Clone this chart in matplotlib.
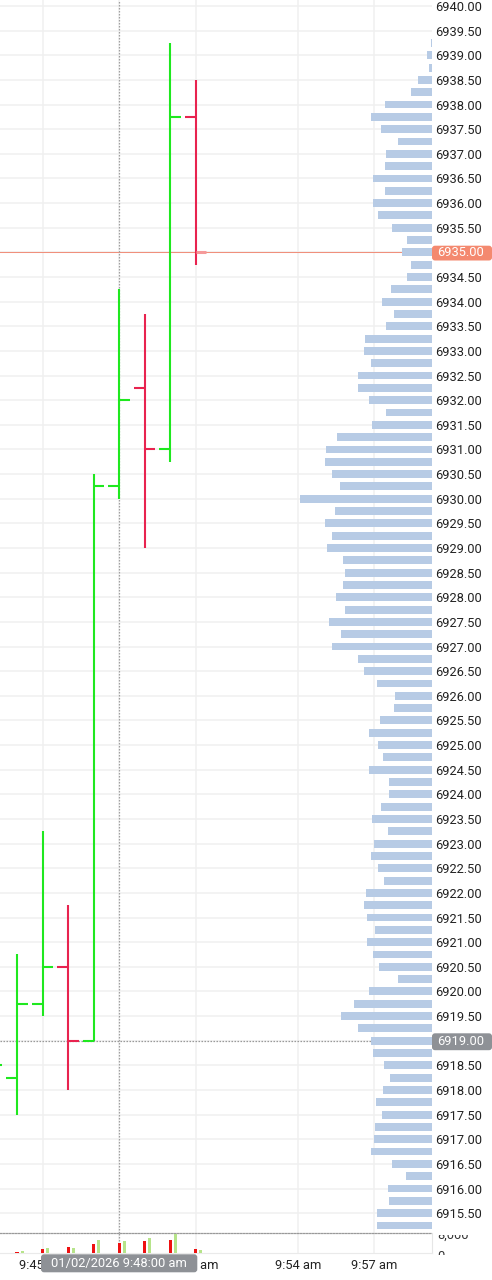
import numpy as np
import matplotlib
matplotlib.use('Agg')
import matplotlib.pyplot as plt
from matplotlib.patches import FancyBboxPatch
from matplotlib.transforms import IdentityTransform, Bbox

plt.rcParams['font.family'] = ['Roboto', 'DejaVu Sans']

# ---------------- data ----------------
bar_idx = [-1, 0, 1, 2, 3, 4, 5, 6, 7]
opens  = [6918.00, 6918.25, 6919.75, 6920.50, 6919.00, 6930.25, 6932.25, 6931.00, 6937.75]
highs  = [6919.00, 6920.75, 6923.25, 6921.75, 6930.50, 6934.25, 6933.75, 6939.25, 6938.50]
lows   = [6917.75, 6917.50, 6919.50, 6918.00, 6919.00, 6930.00, 6929.00, 6930.75, 6934.75]
closes = [6918.50, 6919.75, 6920.50, 6919.00, 6930.25, 6932.00, 6931.00, 6937.75, 6935.00]

sell_vol = [1200, 700, 1900, 2900, 4200, 4370, 5400, 5700, 1750]
buy_vol  = [1500, 1000, 2450, 2450, 5800, 5400, 6700, 8400, 1300]

time_tick_pos = [1, 4, 7, 11, 14]
time_tick_labels = ['9:45 am', '9:48 am', '9:51 am', '9:54 am', '9:57 am']

profile_prices = np.arange(6939.25, 6915.0, -0.25)
profile_vol = [
    10, 50, 30, 136, 210, 470, 606, 506,
    340, 456, 473, 590, 470, 590, 543, 403,
    250, 303, 206, 253, 413, 503, 383, 457,
    673, 677, 610, 743, 743, 630, 463, 597,
    953, 1060, 1070, 1000, 923, 1323,
    973, 1073, 1003, 1050, 893, 867, 887, 957,
    873, 1033, 913, 1003, 737, 680, 550, 373,
    377, 517, 633, 543, 487, 627, 433, 433,
    513, 600, 440, 583, 610, 537, 477, 663,
    683, 650, 567, 653, 590, 527, 343, 630,
    783, 913, 740, 610, 593, 483, 417, 493,
    560, 503, 573, 583, 607, 403, 260, 440,
    427, 550, 547,
]
assert len(profile_vol) == len(profile_prices)

last_price = 6935.00
cross_price = 6919.00
cross_idx = 4
cross_label = '01/02/2026 9:48:00 am'

# ---------------- layout ----------------
W, H = 492, 1280
fig = plt.figure(figsize=(W / 100, H / 100), dpi=100)


def rect(x0, y0, x1, y1):
    return [x0 / W, 1 - y1 / H, (x1 - x0) / W, (y1 - y0) / H]


ax = fig.add_axes(rect(0, 0, 432, 1233))
vax = fig.add_axes(rect(0, 1233, 432, 1253.3))

UP = '#1fe81f'
DOWN = '#e8234f'
GRID = '#f0f0f0'
XMIN, XMAX = -0.666, 16.256

# ---------------- price pane ----------------
ax.set_xlim(XMIN, XMAX)
ax.set_ylim(6915.097, 6940.122)
ax.set_facecolor('white')
for s in ax.spines.values():
    s.set_visible(False)

ax.set_yticks(np.arange(6915.5, 6940.01, 0.5))
ax.set_yticklabels([f'{v:.2f}' for v in np.arange(6915.5, 6940.01, 0.5)])
ax.yaxis.tick_right()
ax.tick_params(axis='y', length=0, pad=2.2, labelsize=9.3, labelcolor='#222222')
ax.set_xticks(time_tick_pos)
ax.tick_params(axis='x', length=0, labelbottom=False)
ax.grid(True, color=GRID, lw=1.1)
ax.set_axisbelow(True)

tw = 0.42
for i, o, h, l, c in zip(bar_idx, opens, highs, lows, closes):
    col = UP if c >= o else DOWN
    ax.vlines(i, l, h, color=col, lw=1.5, zorder=3)
    ax.hlines(o, i - tw, i, color=col, lw=1.5, zorder=3)
    if i == bar_idx[-1]:
        ax.hlines(c, i, i + tw, color='#f59a9a', lw=2.2, zorder=4)
    else:
        ax.hlines(c, i, i + tw, color=col, lw=1.5, zorder=3)

ax.axhline(last_price, color='#f0907c', lw=0.75, zorder=2)
ax.axhline(cross_price, color='#9a9a9a', lw=0.9, ls=(0, (1.2, 1.2)), zorder=2)
ax.axvline(cross_idx, color='#a0a0a0', lw=0.9, ls=(0, (1.2, 1.2)), zorder=2)

# volume profile on a twin axis, anchored at right edge
pax = ax.twiny()
pax.set_xlim(4320, 0)
pax.barh(profile_prices, profile_vol, height=0.16, left=0, color='#b7cbe5', zorder=3)
pax.set_xticks([])
for s in pax.spines.values():
    s.set_visible(False)
pax.set_ylim(ax.get_ylim())

# ---------------- volume pane ----------------
vax.set_xlim(XMIN, XMAX)
vax.set_ylim(0, 8874)
vax.set_yticks([])
vax.set_xticks(time_tick_pos)
vax.set_xticklabels(time_tick_labels)
vax.tick_params(axis='x', length=0, pad=4, labelsize=9.3, labelcolor='#222222')
vax.grid(True, axis='x', color=GRID, lw=1.1)
vax.set_axisbelow(True)
vax.spines['left'].set_visible(False)
vax.spines['top'].set_color('#9a9a9a')
vax.spines['top'].set_linestyle((0, (1.2, 1.2)))
vax.spines['top'].set_linewidth(0.9)
vax.spines['bottom'].set_color('#eaeaea')
vax.spines['right'].set_color('#e6e6e6')
vax.axvline(cross_idx, color='#a0a0a0', lw=0.9, ls=(0, (1.2, 1.2)), zorder=2)

bw = 0.12
vax.bar(np.array(bar_idx), sell_vol, width=bw, color='#ee1111', zorder=3)
vax.bar(np.array(bar_idx) + 0.2, buy_vol, width=bw, color='#b6e48a', zorder=3)

# ---------------- overlays (pixel coordinates) ----------------
ident = IdentityTransform()


def box(x0, y0, x1, y1, color):
    p = FancyBboxPatch((x0, H - y1), x1 - x0, y1 - y0,
                       boxstyle='round,pad=0,rounding_size=3',
                       transform=ident, facecolor=color, edgecolor='none')
    fig.patches.append(p)


box(432, 245.7, 492, 260.5, '#f4896f')
fig.text(437, H - 253.0, f'{last_price:.2f}', transform=ident, color='white',
         fontsize=9.3, va='center', ha='left')
box(432, 1033.3, 492, 1050.2, '#8e9196')
fig.text(437, H - 1041.7, f'{cross_price:.2f}', transform=ident, color='white',
         fontsize=9.3, va='center', ha='left')

box(41, 1254.3, 197.3, 1272.3, '#8e9196')
fig.text(119, H - 1263.3, cross_label, transform=ident, color='white',
         fontsize=9.3, va='center', ha='center')

clip = Bbox([[432, H - 1254.5], [492, H - 1234.5]])
for txt, yy in [('8,000', 1235.7), ('0', 1256.2)]:
    t = fig.text(437, H - yy, txt, transform=ident, color='#333333',
                 fontsize=9.3, va='center', ha='left')
    t.set_clip_box(clip)
    t.set_clip_on(True)

fig.savefig('out.png', dpi=100, facecolor='white')
